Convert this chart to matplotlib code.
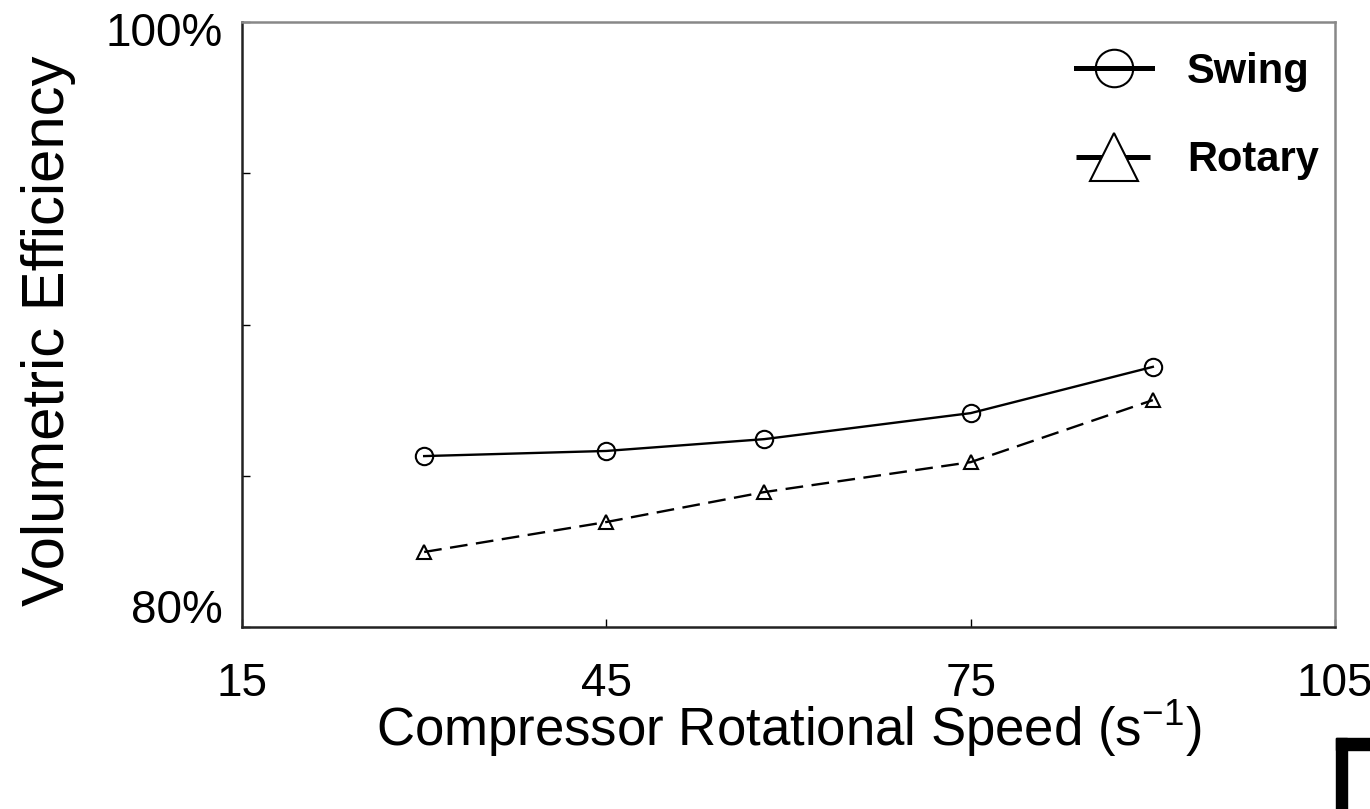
import matplotlib
matplotlib.use("Agg")
import matplotlib.pyplot as plt
import matplotlib.transforms as mtransforms
from matplotlib.lines import Line2D
from matplotlib.patches import Rectangle

plt.rcParams['font.family'] = ['Liberation Sans', 'DejaVu Sans']

speed = [30, 45, 58, 75, 90]
swing = [85.65, 85.82, 86.21, 87.07, 88.6]
rotary = [82.48, 83.47, 84.46, 85.45, 87.5]
x_ticks = [15, 45, 75, 105]
x_ticklabels = ['15', '45', '75', '105']
y_ticks = [80, 85, 90, 95, 100]
y_ticklabels = ['80%', '', '', '', '100%']

fig = plt.figure(figsize=(13.70, 8.09), dpi=100)
ax = fig.add_axes([242/1370, 1-627/809, (1335-242)/1370, (627-22)/809])

ax.plot(speed, swing, color='black', lw=1.7, marker='o', ms=12.5,
        mfc='none', mec='black', mew=1.5, zorder=3)
ax.plot(speed, rotary, color='black', lw=1.7, dashes=(7.5, 3.6), marker='^', ms=10.5,
        mfc='none', mec='black', mew=1.5, zorder=3)

ax.set_xlim(15, 105)
ax.set_ylim(80, 100)
ax.set_xticks(x_ticks)
ax.set_xticklabels(x_ticklabels)
ax.set_yticks(y_ticks)
ax.set_yticklabels(y_ticklabels)
ax.tick_params(axis='both', direction='in', length=6, width=1, labelsize=33)
ax.tick_params(axis='x', pad=25)
ax.tick_params(axis='y', pad=14)

# nudge the end labels of the y axis inward, as in the reference
ylabs = ax.get_yticklabels()
ylabs[0].set_transform(ylabs[0].get_transform() +
                       mtransforms.ScaledTranslation(0, 21/100, fig.dpi_scale_trans))
ylabs[-1].set_transform(ylabs[-1].get_transform() +
                        mtransforms.ScaledTranslation(0, -7/100, fig.dpi_scale_trans))

for s in ['left', 'bottom']:
    ax.spines[s].set_color('#222222')
    ax.spines[s].set_linewidth(1.8)
for s in ['top', 'right']:
    ax.spines[s].set_color('#888888')
    ax.spines[s].set_linewidth(1.8)

ax.set_xlabel('Compressor Rotational Speed (s$^{\\mathregular{-1}}$)', fontsize=38)
ax.set_ylabel('Volumetric Efficiency', fontsize=43)
ax.xaxis.set_label_coords(0.5, -(698-627)/605)
ax.yaxis.set_label_coords(-(242-76)/1093, 0.49)

h1 = Line2D([], [], color='black', lw=3.6, marker='o', ms=27, mfc='none', mec='black', mew=1.5)
h2 = Line2D([], [], color='black', lw=3.6, dashes=(5.8, 3.2), marker='^', ms=35,
            mfc='white', mec='black', mew=1.5)
leg = ax.legend([h1, h2], ['Swing', 'Rotary'], loc='upper left',
                bbox_to_anchor=(0.763, 0.951), frameon=False, borderpad=0,
                borderaxespad=0, handlelength=1.82, handletextpad=0.84,
                labelspacing=1.17, prop={'weight': 'bold', 'size': 30})

# corner mark at the bottom right
fig.patches.append(Rectangle((1336/1370, 0), 11/1370, (809-738)/809, transform=fig.transFigure,
                             color='black', figure=fig))
fig.patches.append(Rectangle((1336/1370, (809-750)/809), 34/1370, 12/809, transform=fig.transFigure,
                             color='black', figure=fig))

fig.savefig('out.png', dpi=100)
